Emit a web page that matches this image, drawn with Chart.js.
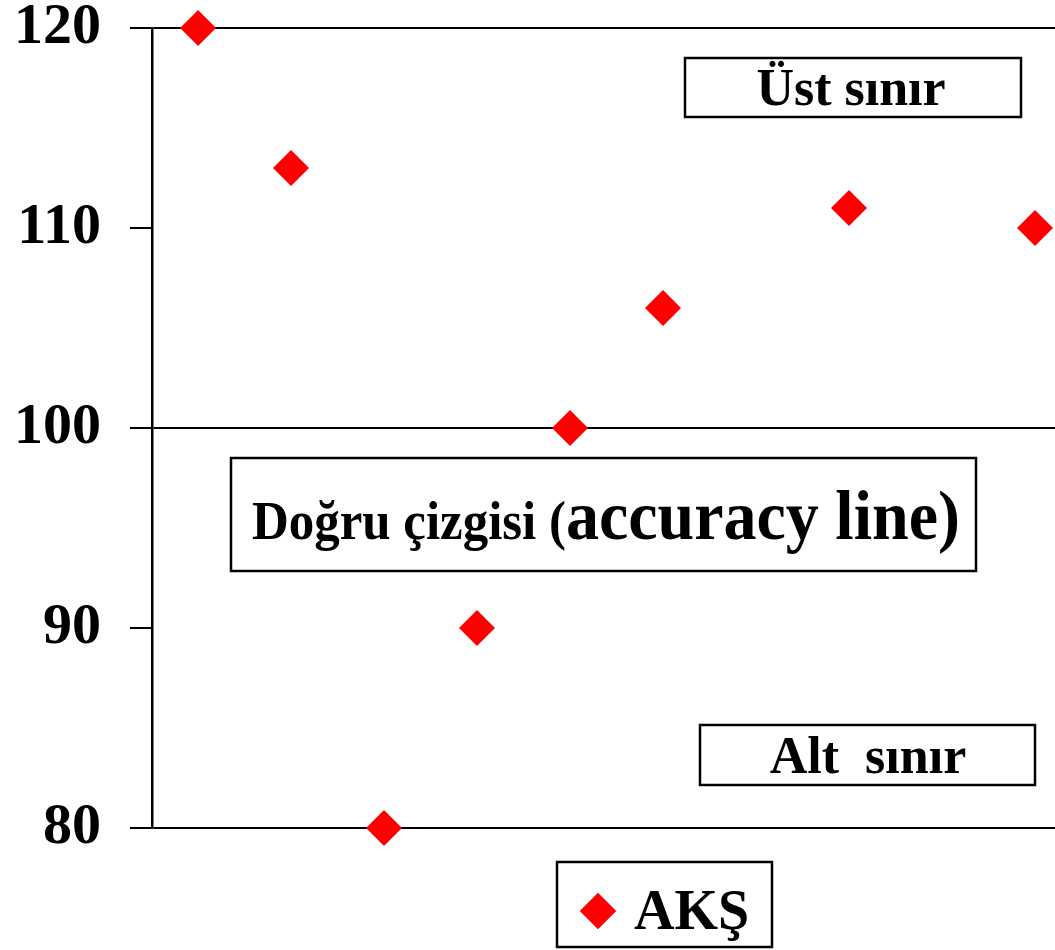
<!DOCTYPE html>
<html>
<head>
<meta charset="utf-8">
<script src="https://cdn.jsdelivr.net/npm/chart.js@4/dist/chart.umd.min.js"></script>
<style>
  html, body { margin: 0; padding: 0; background: #fff; }
  #wrap { width: 1055px; height: 950px; }
</style>
</head>
<body>
<div id="wrap"><canvas id="chart" width="1055" height="950"></canvas></div>
<script>
        // Chart data
        const seriesLabel = 'AKŞ';
        const xValues = [1, 2, 3, 4, 5, 6, 8, 10];
        const akValues = [120, 113, 80, 90, 100, 106, 111, 110];
        const yTicks = [80, 90, 100, 110, 120];
        const limitLines = [80, 100, 120];

        const upperText = 'Üst sınır';
        const lowerText = 'Alt  sınır';
        const accuracyText = ['Doğru çizgisi (', 'accuracy line)'];

        const serif = "'Liberation Serif', 'Times New Roman', serif";
        const red = '#ff0000';

        function drawBox(ctx, x, y, w, h) {
            ctx.save();
            ctx.fillStyle = '#fff';
            ctx.fillRect(x, y, w, h);
            ctx.strokeStyle = '#000';
            ctx.lineWidth = 2.5;
            ctx.strokeRect(x, y, w, h);
            ctx.restore();
        }

        function drawCentered(ctx, text, cx, baseline, size) {
            ctx.save();
            ctx.font = 'bold ' + size + 'px ' + serif;
            ctx.fillStyle = '#000';
            ctx.textAlign = 'center';
            ctx.textBaseline = 'alphabetic';
            ctx.fillText(text, cx, baseline);
            ctx.restore();
        }

        // Text boxes and legend drawn on top of the plot
        const boxesPlugin = {
            id: 'boxes',
            afterDraw(chart) {
                const ctx = chart.ctx;

                drawBox(ctx, 685, 58, 336, 59);
                drawCentered(ctx, upperText, 851, 105, 52);

                drawBox(ctx, 700, 725, 335, 60);
                drawCentered(ctx, lowerText, 868, 773, 52);

                // Accuracy line label: two font sizes, squeezed into its box
                drawBox(ctx, 231, 458, 745, 113);
                ctx.save();
                ctx.fillStyle = '#000';
                ctx.textBaseline = 'alphabetic';
                const f1 = 'bold 54px ' + serif;
                const f2 = 'bold 70px ' + serif;
                ctx.font = f1;
                const w1 = ctx.measureText(accuracyText[0]).width;
                ctx.font = f2;
                const w2 = ctx.measureText(accuracyText[1]).width;
                const sx = Math.min(1, 708 / (w1 + w2));
                ctx.translate(606 - (w1 + w2) * sx / 2, 539);
                ctx.scale(sx, 1);
                ctx.font = f1;
                ctx.fillText(accuracyText[0], 0, 0);
                ctx.font = f2;
                ctx.fillText(accuracyText[1], w1, 0);
                ctx.restore();

                // Legend
                const ds = chart.data.datasets[0];
                drawBox(ctx, 557, 862, 215, 85);
                ctx.save();
                ctx.fillStyle = ds.backgroundColor;
                Chart.helpers.drawPoint(ctx, { pointStyle: 'rectRot', radius: 18, borderWidth: 0 }, 598, 911);
                ctx.fill();
                ctx.font = 'bold 56px ' + serif;
                ctx.fillStyle = '#000';
                ctx.textBaseline = 'alphabetic';
                ctx.fillText(ds.label, 634, 929);
                ctx.restore();
            }
        };

        const ctx = document.getElementById('chart').getContext('2d');
        new Chart(ctx, {
            type: 'scatter',
            data: {
                datasets: [{
                    label: seriesLabel,
                    data: xValues.map((x, i) => ({ x: x, y: akValues[i] })),
                    backgroundColor: red,
                    borderColor: red,
                    borderWidth: 0,
                    pointStyle: 'rectRot',
                    pointRadius: 18,
                    pointHoverRadius: 18,
                    clip: false
                }]
            },
            options: {
                responsive: false,
                animation: false,
                layout: { autoPadding: false, padding: { top: 28, bottom: 122, left: 0, right: 0 } },
                plugins: {
                    legend: { display: false },
                    tooltip: { enabled: false }
                },
                scales: {
                    x: {
                        type: 'linear',
                        display: false,
                        min: 0.505,
                        max: 10.215
                    },
                    y: {
                        min: yTicks[0],
                        max: yTicks[yTicks.length - 1],
                        afterBuildTicks: (scale) => {
                            scale.ticks = yTicks.map(v => ({ value: v }));
                        },
                        afterFit: (scale) => {
                            scale.width = 152;
                            scale.paddingTop = 0;
                            scale.paddingBottom = 0;
                        },
                        border: { display: true, color: '#000', width: 2.5 },
                        grid: {
                            color: (c) => limitLines.includes(c.tick && c.tick.value) ? '#000' : 'rgba(0,0,0,0)',
                            tickColor: '#000',
                            lineWidth: 2,
                            tickLength: 22,
                            drawTicks: true
                        },
                        ticks: {
                            padding: 29,
                            color: '#000',
                            font: { family: serif, size: 58, weight: 'bold', lineHeight: 1 }
                        }
                    }
                }
            },
            plugins: [boxesPlugin]
        });
</script>
</body>
</html>
